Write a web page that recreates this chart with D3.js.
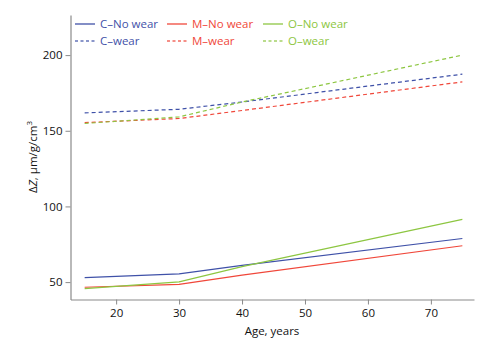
<!DOCTYPE html>
<html><head><meta charset="utf-8">
<script src="https://cdn.jsdelivr.net/npm/d3@7"></script>
<style>body{margin:0;background:#fff}svg{display:block;font-family:"Open Sans",sans-serif}</style>
</head><body><svg id="c" width="498" height="353"></svg>
<script>
const ages = [15, 30, 40, 75];
const cNoWear = [53, 55.4, 61, 78.8];
const mNoWear = [46.6, 48.5, 54.6, 74];
const oNoWear = [45.7, 50.1, 60.2, 91.5];
const cWear = [161.8, 164.2, 169, 187.4];
const mWear = [155.4, 158.1, 163.4, 182.3];
const oWear = [154.8, 159.2, 169, 200];
const xTicks = [20, 30, 40, 50, 60, 70];
const yTicks = [50, 100, 150, 200];
const seriesNames = ["C\u2013No wear","M\u2013No wear","O\u2013No wear","C\u2013wear","M\u2013wear","O\u2013wear"];

const blue = "#3f51a8", red = "#f0473a", green = "#8dc641";
const series = [
  {name: seriesNames[0], v: cNoWear, color: blue, dash: null},
  {name: seriesNames[1], v: mNoWear, color: red, dash: null},
  {name: seriesNames[2], v: oNoWear, color: green, dash: null},
  {name: seriesNames[3], v: cWear, color: blue, dash: "4,3"},
  {name: seriesNames[4], v: mWear, color: red, dash: "4,3"},
  {name: seriesNames[5], v: oWear, color: green, dash: "4,3"}
];

const svg = d3.select("#c");
const x = d3.scaleLinear().domain([12.75, 76.85]).range([70.5, 474]);
const y = d3.scaleLinear().domain([38.5, 226.5]).range([299.5, 15]);
const axisColor = "#8a8a8a";

const gx = svg.append("g").attr("transform","translate(0,299.5)")
  .call(d3.axisBottom(x).tickValues(xTicks).tickSize(5).tickSizeOuter(0).tickFormat(d3.format("d")));
const gy = svg.append("g").attr("transform","translate(70.5,0)")
  .call(d3.axisLeft(y).tickValues(yTicks).tickSize(5).tickSizeOuter(0).tickFormat(d3.format("d")));
[gx, gy].forEach(g => {
  g.select(".domain").attr("stroke", axisColor).attr("stroke-width", 1.2);
  g.selectAll(".tick line").attr("stroke", axisColor);
  g.selectAll(".tick text").attr("fill","#111").attr("font-size", 11.5).attr("font-family","'Open Sans',sans-serif");
});
gx.selectAll(".tick text").attr("dy","0.85em");

const line = d3.line().x((d,i)=>x(ages[i])).y(d=>y(d));
series.forEach(s => {
  svg.append("path").attr("d", line(s.v)).attr("fill","none")
    .attr("stroke", s.color).attr("stroke-width", 1.2)
    .attr("stroke-dasharray", s.dash);
});

svg.append("text").attr("x", 272).attr("y", 335).attr("text-anchor","middle")
  .attr("font-size", 11.5).attr("fill","#111").text("Age, years");
const yl = svg.append("text").attr("transform","translate(37,157) rotate(-90)")
  .attr("text-anchor","middle").attr("font-size", 11.5).attr("fill","#111");
yl.append("tspan").text("\u0394");
yl.append("tspan").attr("font-style","italic").text("Z");
yl.append("tspan").text(", \u03bcm/g/cm");
yl.append("tspan").attr("font-size", 8).attr("dy", -5).text("3");

const legX = [75, 167, 263], legY = [24, 41];
series.forEach((s, i) => {
  const col = i % 3, row = Math.floor(i / 3);
  const g = svg.append("g").attr("transform", `translate(${legX[col]},${legY[row]})`);
  g.append("line").attr("x1",0).attr("x2",20).attr("y1",0).attr("y2",0)
    .attr("stroke", s.color).attr("stroke-width", 1.6).attr("stroke-dasharray", s.dash ? "3,2.5" : null).attr("opacity",0.8);
  g.append("text").attr("x", 25).attr("y", 4).attr("font-size", 11.5).attr("fill", s.color).text(s.name);
});
</script></body></html>
